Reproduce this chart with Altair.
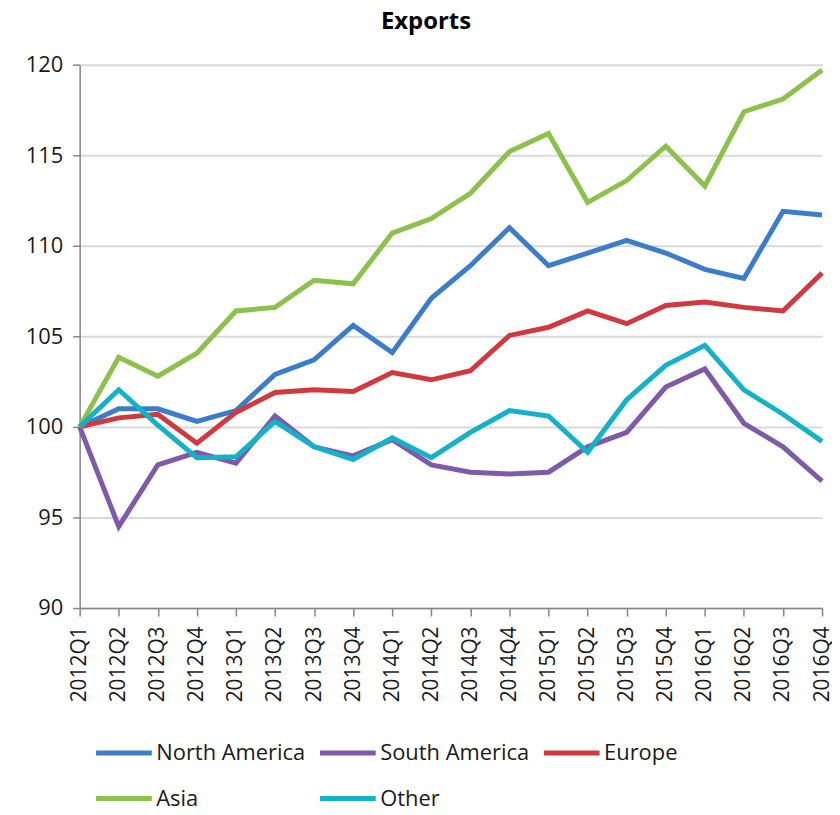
import altair as alt
import pandas as pd

quarters = ["2012Q1", "2012Q2", "2012Q3", "2012Q4",
            "2013Q1", "2013Q2", "2013Q3", "2013Q4",
            "2014Q1", "2014Q2", "2014Q3", "2014Q4",
            "2015Q1", "2015Q2", "2015Q3", "2015Q4",
            "2016Q1", "2016Q2", "2016Q3", "2016Q4"]

north_america = [100.0, 101.0, 101.0, 100.3, 100.9, 102.9, 103.7, 105.6, 104.1, 107.1,
                 108.9, 111.0, 108.9, 109.6, 110.3, 109.6, 108.7, 108.2, 111.9, 111.7]
south_america = [100.0, 94.5, 97.9, 98.6, 98.0, 100.6, 98.9, 98.4, 99.3, 97.9,
                 97.5, 97.4, 97.5, 98.9, 99.7, 102.2, 103.2, 100.2, 98.9, 97.0]
europe = [100.0, 100.5, 100.7, 99.1, 100.8, 101.9, 102.05, 101.95, 103.0, 102.6,
          103.1, 105.05, 105.5, 106.4, 105.7, 106.7, 106.9, 106.6, 106.4, 108.5]
asia = [100.0, 103.85, 102.8, 104.07, 106.4, 106.6, 108.1, 107.9, 110.7, 111.5,
        112.9, 115.2, 116.2, 112.4, 113.6, 115.5, 113.3, 117.4, 118.1, 119.7]
other = [100.0, 102.05, 100.1, 98.3, 98.35, 100.3, 98.9, 98.2, 99.4, 98.3,
         99.7, 100.9, 100.6, 98.6, 101.5, 103.4, 104.5, 102.05, 100.7, 99.2]

series_names = ["North America", "South America", "Europe", "Asia", "Other"]
series_values = [north_america, south_america, europe, asia, other]
series_colors = ["#3b7dc8", "#7f5aa8", "#d0393f", "#8cc14c", "#13b2c8"]

rows = []
for name, vals in zip(series_names, series_values):
    for q, v in zip(quarters, vals):
        rows.append({"Quarter": q, "Region": name, "Value": v})
df = pd.DataFrame(rows)

FONT = "Open Sans"

chart = alt.Chart(df).mark_line(strokeWidth=5, strokeJoin="miter", strokeCap="butt").encode(
    x=alt.X("Quarter:N", sort=quarters,
            scale=alt.Scale(type="point", padding=0),
            axis=alt.Axis(title=None, labelAngle=-90, labelFont=FONT, labelFontSize=21,
                          labelColor="#1a1a1a", labelPadding=10, tickSize=8,
                          tickColor="#868686", tickWidth=1.5, domainColor="#868686",
                          domainWidth=1.5, grid=False, labelOverlap=False)),
    y=alt.Y("Value:Q", scale=alt.Scale(domain=[90, 120], nice=False, zero=False),
            axis=alt.Axis(title=None, values=[90, 95, 100, 105, 110, 115, 120],
                          labelFont=FONT, labelFontSize=22, labelColor="#1a1a1a",
                          labelPadding=10, tickSize=7, tickColor="#868686", tickWidth=1.5,
                          domainColor="#868686", domainWidth=1.5,
                          gridColor="#d9d9d9", gridWidth=2)),
    color=alt.Color("Region:N", sort=series_names,
                    scale=alt.Scale(domain=series_names, range=series_colors),
                    legend=alt.Legend(title=None, orient="none", legendX=14, legendY=661,
                                      direction="horizontal", columns=3,
                                      symbolType="stroke", symbolSize=3136,
                                      symbolStrokeWidth=5, labelFont=FONT,
                                      labelFontSize=22, labelColor="#1a1a1a",
                                      labelOffset=2, columnPadding=4, rowPadding=4,
                                      symbolOffset=0, padding=0)),
).properties(
    width=746,
    height=546,
    title=alt.TitleParams("Exports", font=FONT, fontSize=24, fontWeight="bold",
                          color="#000000", anchor="middle", dx=-25, offset=20),
    autosize=alt.AutoSizeParams(type="none"),
    padding={"left": 72, "top": 55, "right": 10, "bottom": 197},
).configure_view(stroke=None)

chart.save("out.html", embed_options={"renderer": "svg", "actions": False})
